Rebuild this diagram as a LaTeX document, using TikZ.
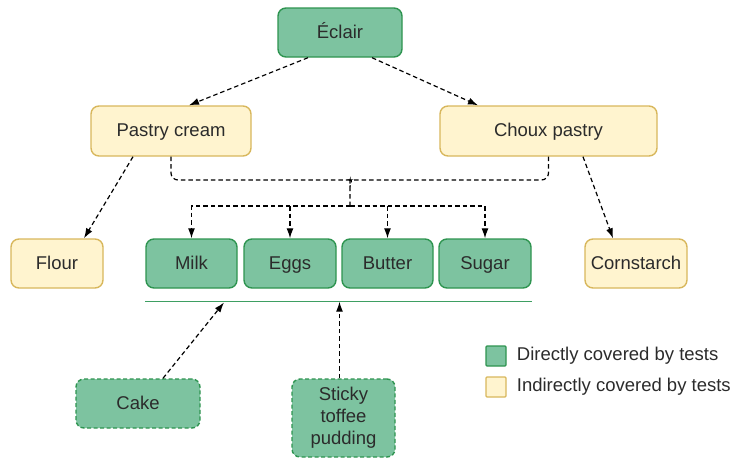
\documentclass[tikz,border=0pt]{standalone}
\usepackage{fontspec}
\newfontfamily\boxfont{Liberation Sans}
\usetikzlibrary{arrows.meta,positioning}

\definecolor{tgreen}{HTML}{7DC3A0}
\definecolor{tgreenline}{HTML}{2E9450}
\definecolor{tbar}{HTML}{3E9F62}
\definecolor{tyellow}{HTML}{FFF4CF}
\definecolor{tyellowline}{HTML}{D8B75C}
\definecolor{ttext}{HTML}{2B2B2B}

\begin{document}
\begin{tikzpicture}[
                x=1pt, y=-1pt,
                font=\boxfont\fontsize{18.5}{22}\selectfont,
                text=ttext,
                ingredient/.style={rectangle, rounded corners=8pt, line width=1.4pt, inner sep=0pt, minimum height=49pt, align=center, text height=14pt, text depth=2.5pt},
                direct/.style={ingredient, fill=tgreen, draw=tgreenline},
                indirect/.style={ingredient, fill=tyellow, draw=tyellowline},
                untested/.style={direct, dash pattern=on 4pt off 2.5pt},
                link/.style={-{Latex[length=10pt,width=7pt]}, line width=1.2pt, black, dash pattern=on 4.5pt off 3pt},
                plain/.style={line width=1.2pt, black, dash pattern=on 4.5pt off 3pt},
                keybox/.style={rectangle, line width=1.4pt, minimum size=20pt, inner sep=0pt, rounded corners=1pt},
            ]
            \useasboundingbox (0,0) rectangle (732,458);

            % recipe tree
            \node[direct, minimum width=124pt]   (ecl)   at (340,32.5)   {Éclair};
            \node[indirect, minimum width=160pt, minimum height=50pt] (pc) at (171,131) {Pastry cream};
            \node[indirect, minimum width=217pt, minimum height=50pt] (ch) at (548.5,131) {Choux pastry};
            \node[indirect, minimum width=92pt]  (flour) at (57,263.5)   {Flour};
            \node[direct, minimum width=91pt]    (milk)  at (191.5,263.5) {Milk};
            \node[direct, minimum width=92pt]    (eggs)  at (290,263.5)  {Eggs};
            \node[direct, minimum width=91pt]    (butter) at (387.5,263.5) {Butter};
            \node[direct, minimum width=92pt]    (sugar) at (485,263.5)  {Sugar};
            \node[indirect, minimum width=102pt] (corn)  at (636,263.5)  {Cornstarch};

            % tests of other recipes
            \node[untested, minimum width=124pt] (cake)   at (138,403.5) {Cake};
            \node[untested, minimum width=103pt, minimum height=78pt, text height=, text depth=] (sticky) at (343.5,418) {Sticky\\toffee\\pudding};

            \coordinate (merge) at (350,206);
            \coordinate (barL) at ([yshift=-13pt]milk.south west);
            \coordinate (barR) at ([yshift=-13pt]sugar.south east);
            \coordinate (barA) at (224,302.5);

            \draw[link] ([xshift=-32pt]ecl.south) -- ([xshift=18pt]pc.north);
            \draw[link] ([xshift=32pt]ecl.south) -- ([xshift=-70.5pt]ch.north);
            \draw[link] ([xshift=-38pt]pc.south) -- ([xshift=27pt]flour.north);
            \draw[link] ([xshift=34.5pt]ch.south) -- ([xshift=-23pt]corn.north);

            % shared ingredients
            \draw[plain, rounded corners=7pt] (pc.south) |- (343,180) to[out=0,in=90] (merge |- 0,187) -- (merge);
            \draw[plain, rounded corners=7pt] (ch.south) |- (357,180) to[out=180,in=90] (merge |- 0,187);
            \foreach \n in {milk,eggs,butter,sugar}
                \draw[link] (merge) -| (\n.north);

            \draw[tbar, line width=1.3pt] (barL) -- (barR);
            \draw[link] ([xshift=25pt]cake.north) -- (barA);
            \draw[link] ([xshift=-4pt]sticky.north) -- ([xshift=-4pt]sticky.north |- barL);

            % legend
            \node[keybox, fill=tgreen, draw=tgreenline]   (keyA) at (496,356) {};
            \node[keybox, fill=tyellow, draw=tyellowline] (keyB) at (496,387) {};
            \node[right=10pt of keyA, inner sep=0pt] (keyAtext) {Directly covered by tests};
            \node[right=10pt of keyB, inner sep=0pt] (keyBtext) {Indirectly covered by tests};
        \end{tikzpicture}
\end{document}
